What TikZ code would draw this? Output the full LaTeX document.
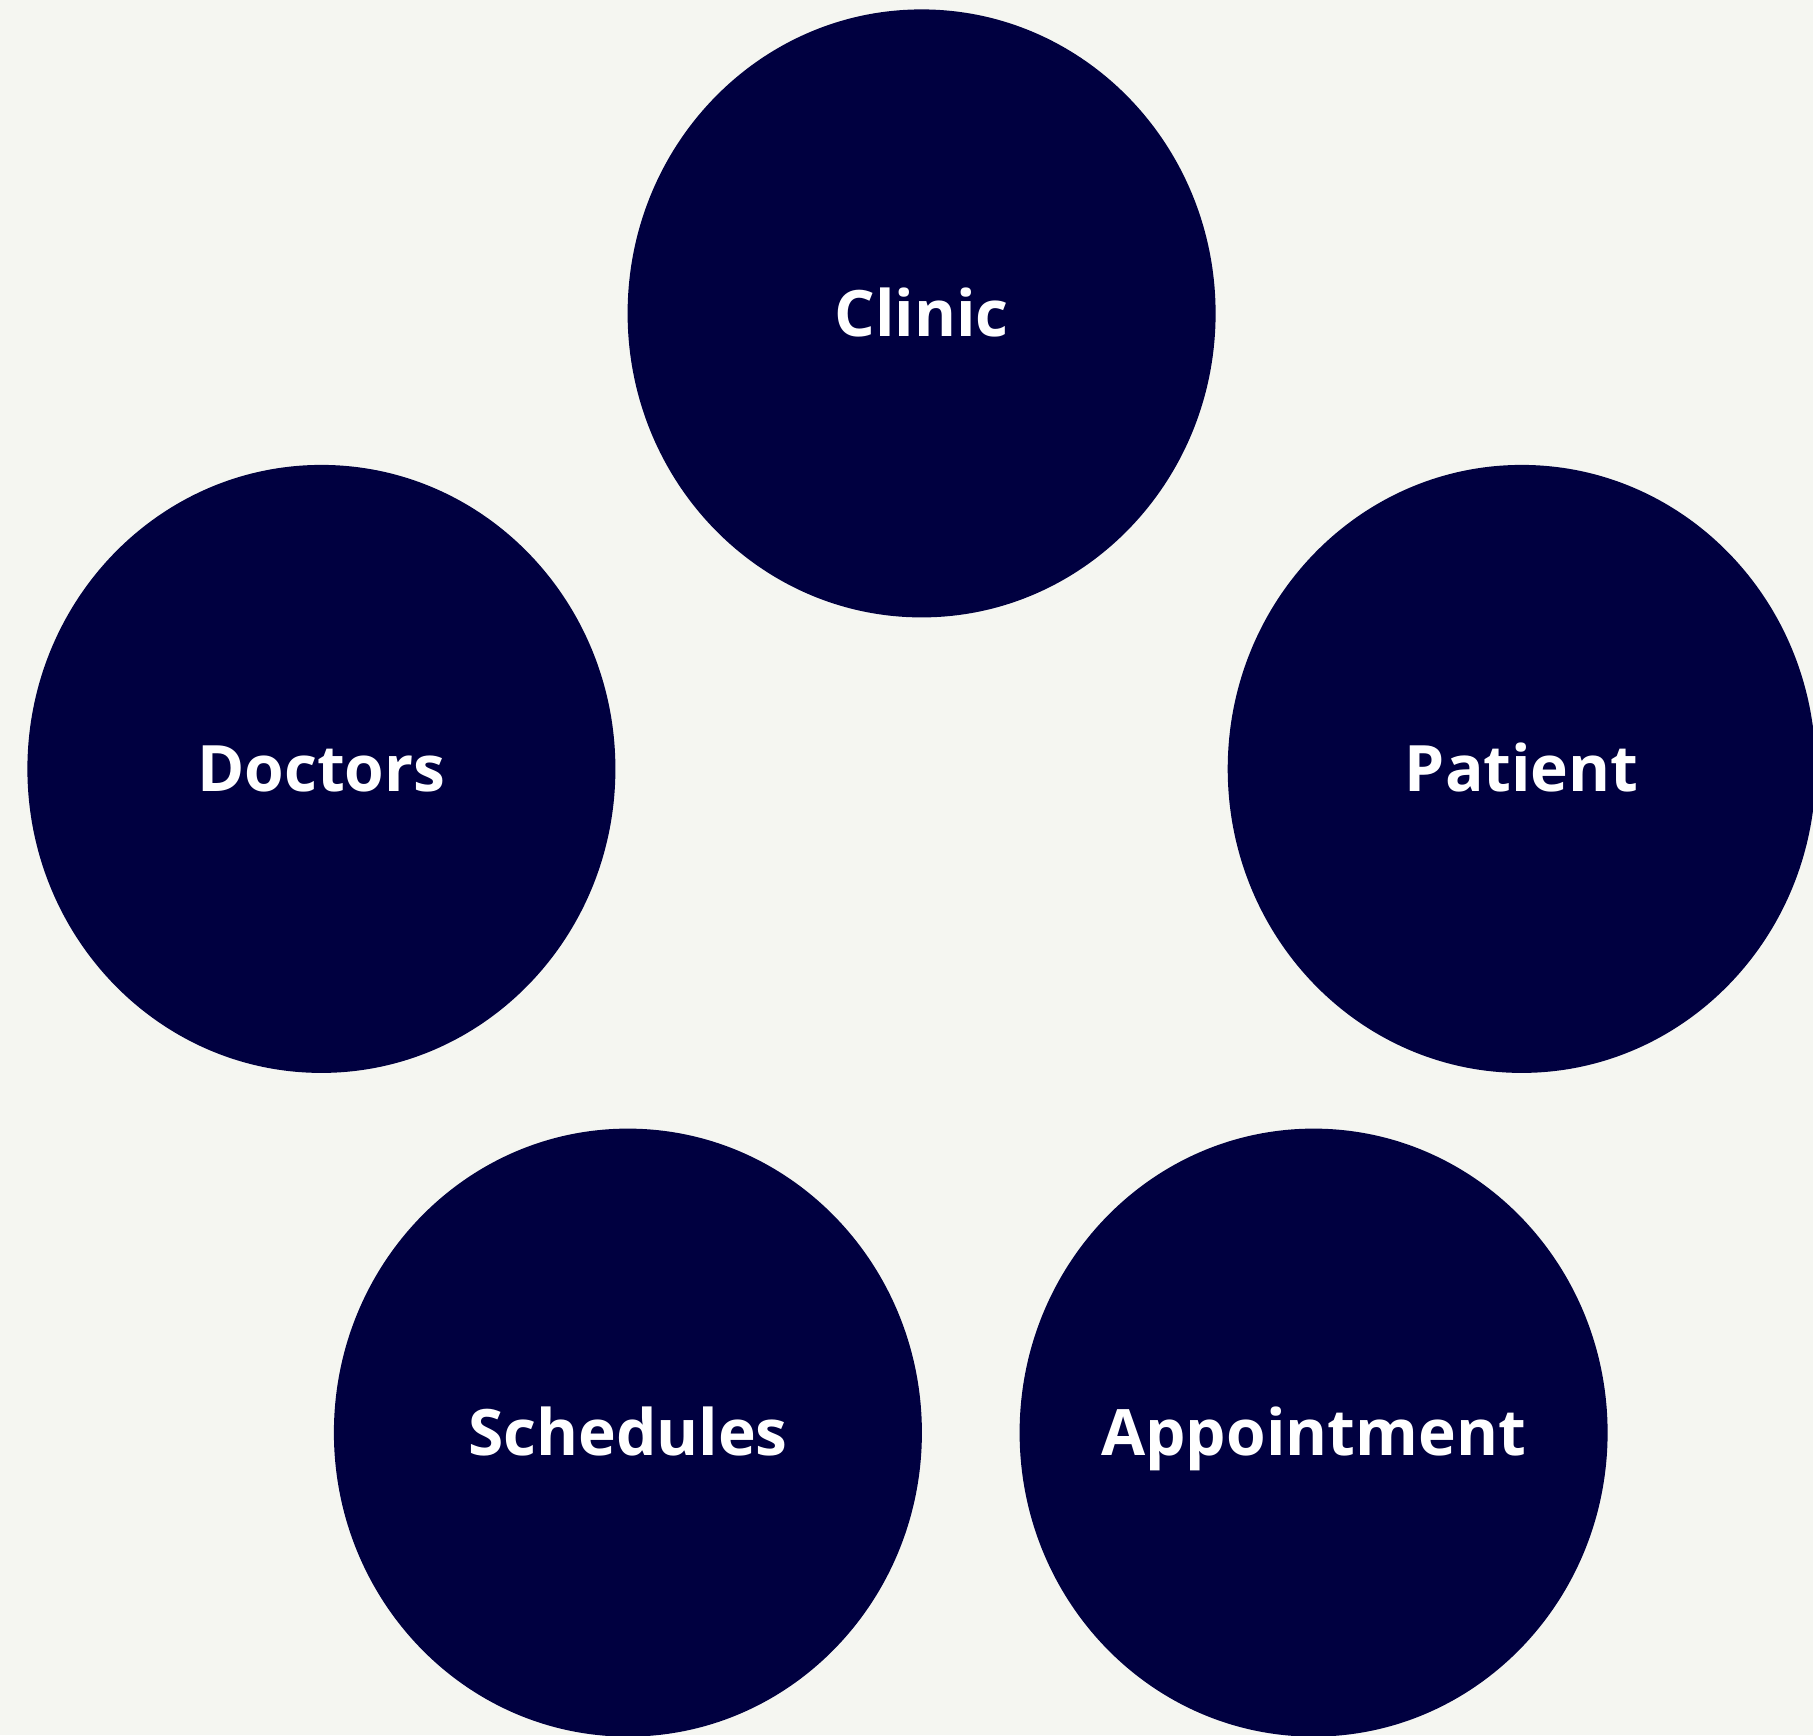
\documentclass[tikz,border=0pt]{standalone}
\usepackage{fontspec}
\setmainfont{Open Sans}
\usetikzlibrary{shapes.geometric}
\definecolor{navy}{HTML}{000040}
\definecolor{paper}{HTML}{F5F6F1}

\begin{document}
\begin{tikzpicture}[x=0.5pt, y=-0.5pt]
  \tikzstyle{entity} = [ellipse, fill=navy, text=white, inner sep=0pt, minimum width=294pt, minimum height=304pt, font=\fontsize{32}{38}\selectfont\bfseries, text height=23pt, text depth=0pt]
  \useasboundingbox (0,0) rectangle (1813,1735);
  \fill[paper] (0,0) rectangle (1813,1735);
  \clip (0,0) rectangle (1813,1735);
  \node[entity] (clinic) at (921.6,313.4) {Clinic};
  \node[entity] (doctors) at (321.4,768.9) {Doctors};
  \node[entity] (patient) at (1521.7,768.9) {Patient};
  \node[entity] (schedules) at (627.9,1432.6) {Schedules};
  % wide label: keep it from stretching the ellipse
  \node[entity] (appointment) at (1313.6,1432.6) {\makebox[0pt]{Appointment}};
\end{tikzpicture}
\end{document}
